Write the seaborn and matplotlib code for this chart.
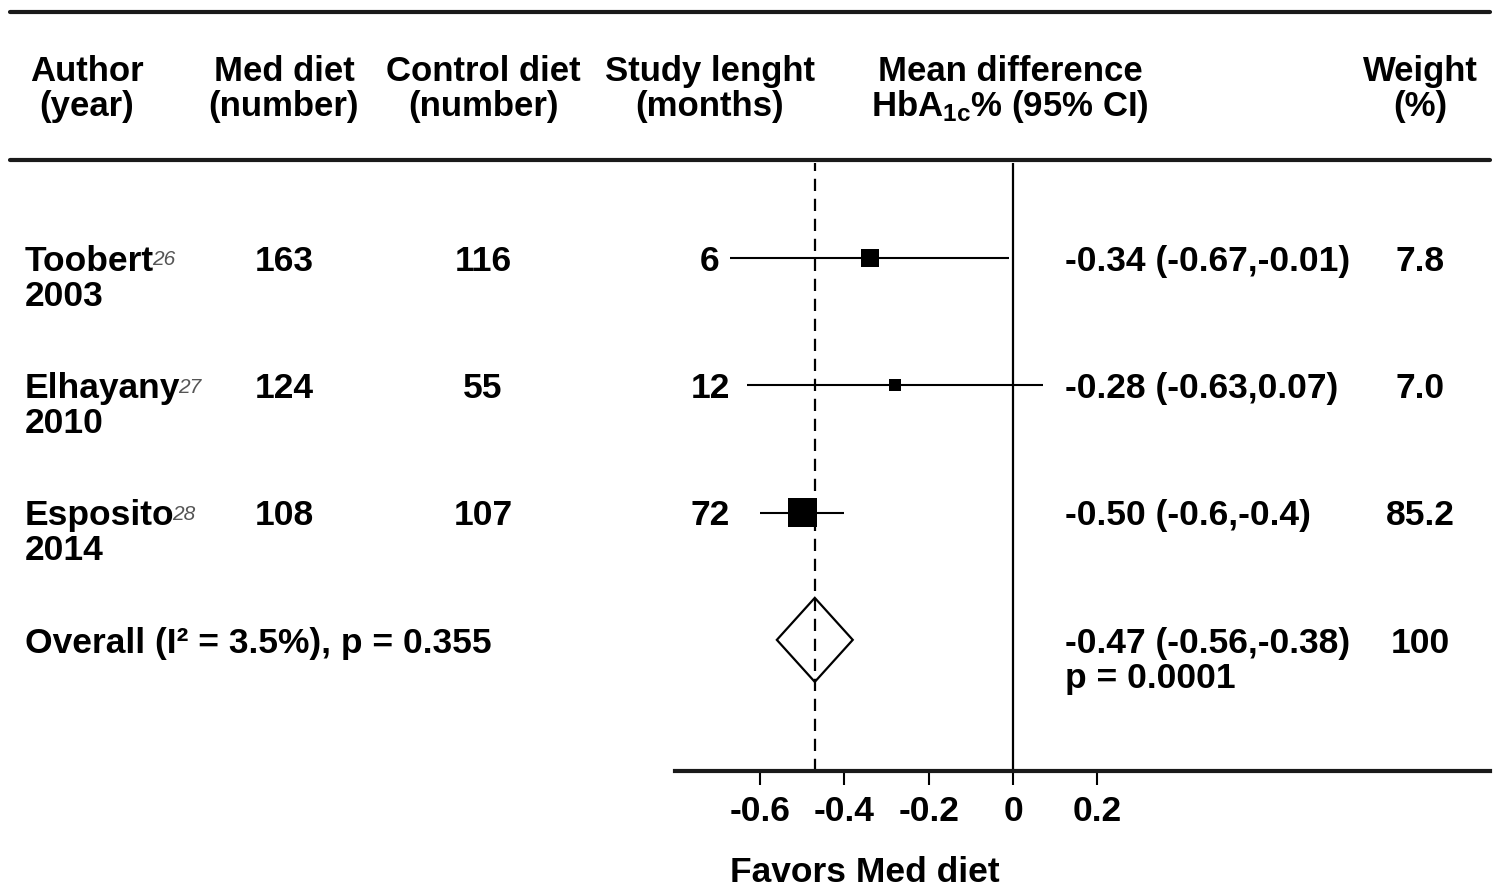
import numpy as np
import pandas as pd
import matplotlib.pyplot as plt
import seaborn as sns
from matplotlib.lines import Line2D
from matplotlib.transforms import blended_transform_factory

# study data
authors = ["Toobert", "Elhayany", "Esposito"]
refs = ["26", "27", "28"]
years = ["2003", "2010", "2014"]
med_n = [163, 124, 108]
ctrl_n = [116, 55, 107]
months = [6, 12, 72]
md = [-0.34, -0.28, -0.50]
ci_lo = [-0.67, -0.63, -0.6]
ci_hi = [-0.01, 0.07, -0.4]
ci_labels = ["-0.34 (-0.67,-0.01)", "-0.28 (-0.63,0.07)", "-0.50 (-0.6,-0.4)"]
weights = ["7.8", "7.0", "85.2"]

overall_md, overall_lo, overall_hi = -0.47, -0.56, -0.38
overall_label = "-0.47 (-0.56,-0.38)"
overall_p = "p = 0.0001"
overall_weight = "100"
overall_text = "Overall (I² = 3.5%), p = 0.355"

xticks = [-0.6, -0.4, -0.2, 0, 0.2]
xtick_labels = ["-0.6", "-0.4", "-0.2", "0", "0.2"]

df = pd.DataFrame({"author": authors, "md": md, "lo": ci_lo, "hi": ci_hi,
                   "row": np.arange(1, len(authors) + 1)})
overall_row = len(authors) + 1

# styling
box_px = [18, 12, 29]
FS = 25.5
FS_HEAD = 25

sns.set_theme(style="white")
plt.rcParams["font.family"] = ["Liberation Sans", "DejaVu Sans"]
plt.rcParams["font.weight"] = "bold"
plt.rcParams["text.color"] = "black"
plt.rcParams["axes.labelcolor"] = "black"
plt.rcParams["xtick.color"] = "black"
plt.rcParams["axes.unicode_minus"] = False
plt.rcParams["mathtext.fontset"] = "custom"
plt.rcParams["mathtext.rm"] = "Liberation Sans:bold"
plt.rcParams["mathtext.it"] = "Liberation Sans:bold:italic"
plt.rcParams["mathtext.default"] = "rm"

W, H = 1501, 888
fig = plt.figure(figsize=(W / 100, H / 100), dpi=100)
fx = lambda px: px / W
fy = lambda py: 1 - py / H

ax = fig.add_axes([fx(675), fy(771), fx(1490) - fx(675), fy(163) - fy(771)])
ax.set_xlim(-0.8015, 1.1311)
ax.set_ylim(5.03, 0.254)

# reference lines
ax.axvline(0, color="black", lw=1.6)
ax.axvline(overall_md, color="black", lw=1.6, ls=(0, (5.5, 3.5)))

# confidence intervals and boxes
ax.hlines(df["row"], df["lo"], df["hi"], color="black", lw=1.5)
sns.scatterplot(data=df, x="md", y="row", marker="s", color="black",
                s=[(p * 0.72) ** 2 for p in box_px], linewidth=0, ax=ax,
                legend=False, zorder=3)

# overall diamond
dh = 0.33
ax.fill([overall_lo, overall_md, overall_hi, overall_md],
        [overall_row, overall_row - dh, overall_row, overall_row + dh],
        fill=False, edgecolor="black", lw=1.6, zorder=3)

# axis styling
for side in ["top", "left", "right"]:
    ax.spines[side].set_visible(False)
ax.spines["bottom"].set_linewidth(3)
ax.spines["bottom"].set_color("#1a1a1a")
ax.set_yticks([])
ax.set_ylabel("")
ax.set_xticks(xticks)
ax.set_xticklabels(xtick_labels, fontsize=FS, fontweight="bold")
ax.tick_params(axis="x", direction="out", length=10, width=1.5,
               color="black", pad=7, bottom=True)
ax.set_xlabel("Favors Med diet", fontsize=FS, fontweight="bold", labelpad=0)
ax.xaxis.set_label_coords((865 - 675) / (1490 - 675), -(873 - 771) / (771 - 163))
ax.xaxis.label.set_va("center")
ax.patch.set_alpha(0)

# header
fig.add_artist(Line2D([fx(10), fx(1490)], [fy(12), fy(12)], color="#1a1a1a", lw=3))
fig.add_artist(Line2D([fx(10), fx(1490)], [fy(160), fy(160)], color="#1a1a1a", lw=3))
headers = [(87, "Author", "(year)"), (284, "Med diet", "(number)"),
           (483, "Control diet", "(number)"), (710, "Study lenght", "(months)"),
           (1010, "Mean difference", "HbA$_{\\mathrm{1c}}$% (95% CI)"),
           (1420, "Weight", "(%)")]
for x, l1, l2 in headers:
    fig.text(fx(x), fy(81), l1, ha="center", va="baseline", fontsize=FS_HEAD)
    fig.text(fx(x), fy(116), l2, ha="center", va="baseline", fontsize=FS_HEAD)

# table columns
tr = blended_transform_factory(fig.transFigure, ax.transData)
base = 0.1
line2 = 35 / 127.33
for i, r in enumerate(df["row"]):
    t = ax.text(fx(25), r + base, authors[i], transform=tr, ha="left",
                va="baseline", fontsize=FS)
    ax.annotate(refs[i], xy=(1, 1), xycoords=t, xytext=(-1.5, -4),
                textcoords="offset points", ha="left", va="top",
                fontsize=15, fontstyle="italic", fontweight="normal",
                color="#555555")
    ax.text(fx(25), r + base + line2, years[i], transform=tr, ha="left",
            va="baseline", fontsize=FS)
    ax.text(fx(284), r + base, str(med_n[i]), transform=tr, ha="center",
            va="baseline", fontsize=FS)
    ax.text(fx(483), r + base, str(ctrl_n[i]), transform=tr, ha="center",
            va="baseline", fontsize=FS)
    ax.text(fx(710), r + base, str(months[i]), transform=tr, ha="center",
            va="baseline", fontsize=FS)
    ax.text(fx(1065), r + base, ci_labels[i], transform=tr, ha="left",
            va="baseline", fontsize=FS)
    ax.text(fx(1420), r + base, weights[i], transform=tr, ha="center",
            va="baseline", fontsize=FS)

ax.text(fx(25), overall_row + base, overall_text, transform=tr, ha="left",
        va="baseline", fontsize=FS)
ax.text(fx(1065), overall_row + base, overall_label, transform=tr, ha="left",
        va="baseline", fontsize=FS)
ax.text(fx(1065), overall_row + base + line2, overall_p, transform=tr,
        ha="left", va="baseline", fontsize=FS)
ax.text(fx(1420), overall_row + base, overall_weight, transform=tr,
        ha="center", va="baseline", fontsize=FS)

fig.savefig("out.png", dpi=100, facecolor="white")
